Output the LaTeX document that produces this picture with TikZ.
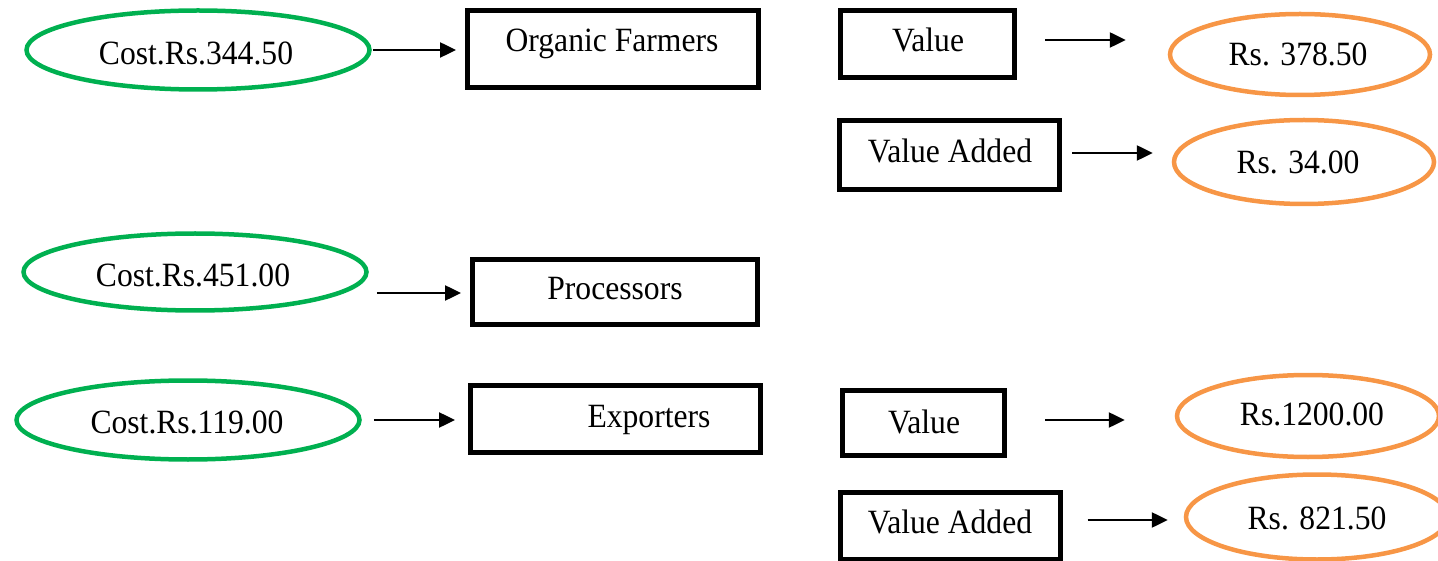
\documentclass[tikz,border=0pt]{standalone}
\usepackage{fontspec}
\setmainfont{Liberation Serif}[FakeStretch=0.93]
\usetikzlibrary{shapes.geometric,arrows.meta}
\definecolor{costgreen}{RGB}{0,176,80}
\definecolor{valorange}{RGB}{247,150,70}
\begin{document}
\begin{tikzpicture}[x=1pt,y=-1pt,
  lbl/.style={anchor=base, inner sep=0pt, font=\fontsize{34}{40}\selectfont},
  costell/.style={ellipse, draw=costgreen, line width=4.5pt, inner sep=0pt},
  valell/.style={ellipse, draw=valorange, line width=4.5pt, inner sep=0pt},
  stagebox/.style={rectangle, draw=black, line width=5pt, inner sep=0pt},
  flow/.style={line width=2.5pt, -{Triangle[length=16pt,width=15pt]}}
]
\useasboundingbox (0,0) rectangle (1438,561);

% cost ellipses (left column)
\node[costell, minimum width=343pt, minimum height=79pt] (c1) at (198,50) {};
\node[costell, minimum width=343pt, minimum height=77pt] (c2) at (195,272) {};
\node[costell, minimum width=343pt, minimum height=79pt] (c3) at (188,420) {};

% stage boxes
\node[stagebox, minimum width=291pt, minimum height=77pt] (farm) at (613,49) {};
\node[stagebox, minimum width=285pt, minimum height=65pt] (proc) at (615,292) {};
\node[stagebox, minimum width=290pt, minimum height=67pt] (exp) at (615.5,419) {};

% value boxes
\node[stagebox, minimum width=174pt, minimum height=67pt] (v1) at (927.5,44) {};
\node[stagebox, minimum width=220pt, minimum height=69pt] (va1) at (949.5,155) {};
\node[stagebox, minimum width=162pt, minimum height=65pt] (v2) at (923.5,423) {};
\node[stagebox, minimum width=220pt, minimum height=67pt] (va2) at (950,526) {};

% value ellipses (right column)
\node[valell, minimum width=260pt, minimum height=81pt] (r1) at (1300,54.5) {};
\node[valell, minimum width=260pt, minimum height=84pt] (r2) at (1304,162) {};
\node[valell, minimum width=262pt, minimum height=82pt] (r3) at (1308,416) {};
\node[valell, minimum width=262pt, minimum height=85pt] (r4) at (1317,517) {};

% labels
\node[lbl] (tc1) at (196,65) {Cost.Rs.344.50};
\node[lbl] (tc2) at (193,287) {Cost.Rs.451.00};
\node[lbl] (tc3) at (187,433) {Cost.Rs.119.00};
\node[lbl] (tfarm) at (612,52) {Organic Farmers};
\node[lbl] (tproc) at (615,300) {Processors};
\node[lbl] (texp) at (649,427) {Exporters};
\node[lbl] (tv1) at (928,52) {Value};
\node[lbl] (tva1) at (950,163) {Value Added};
\node[lbl] (tv2) at (924,433) {Value};
\node[lbl] (tva2) at (950,533) {Value Added};
\node[lbl] (tr1) at (1298,66) {Rs. 378.50};
\node[lbl] (tr2) at (1298,174) {Rs. 34.00};
\node[lbl] (tr3) at (1312,425) {Rs.1200.00};
\node[lbl] (tr4) at (1317,529) {Rs. 821.50};

% arrows
\draw[flow, shorten <=1pt, shorten >=9pt] (c1.east) -- (c1.east -| farm.west);
\coordinate (a2) at ([yshift=-1pt]proc.west);
\draw[flow, shorten <=8pt, shorten >=9pt] (c2.east |- a2) -- (a2);
\draw[flow, shorten <=12pt, shorten >=13pt] (c3.east) -- (c3.east -| exp.west);
\coordinate (a4) at ([yshift=4pt]v1.east);
\draw[flow, shorten <=28pt, shorten >=42pt] (a4) -- (a4 -| r1.west);
\coordinate (a5) at ([yshift=2pt]va1.east);
\draw[flow, shorten <=10pt, shorten >=19pt] (a5) -- (a5 -| r2.west);
\coordinate (a6) at ([yshift=3pt]v2.east);
\draw[flow, shorten <=38pt, shorten >=50pt] (a6) -- (a6 -| r3.west);
\coordinate (a7) at ([yshift=6pt]va2.east);
\draw[flow, shorten <=25pt, shorten >=16pt] (a7) -- (a7 -| r4.west);
\end{tikzpicture}
\end{document}
